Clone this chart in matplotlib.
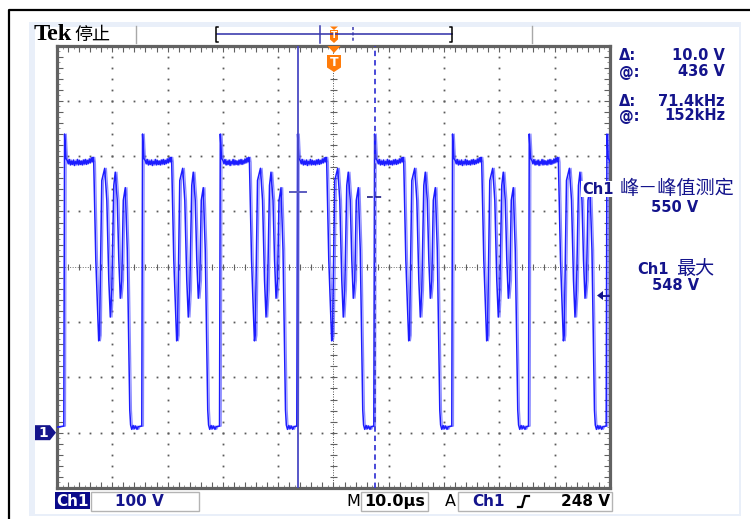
import matplotlib
matplotlib.use('Agg')
import matplotlib.pyplot as plt
import numpy as np
from matplotlib.patches import Rectangle, Polygon

# ---------------- data ----------------
time_per_div_us = 10
volts_per_div = 100
n_div_x = 10
n_div_y = 8
ground_div_from_bottom = 1

rise_times_us = [1.32, 15.42, 29.48, 43.45, 57.38, 71.48, 85.35, 99.40]
start_level_v = 10

# one switching cycle, offsets from the rising edge (us) and volts
cycle_dt_us = [-0.09, 0.05, 0.27, 0.54, 0.72, 0.90, 1.10, 1.28, 1.45, 1.65, 1.82,
               1.99, 2.18, 2.36, 2.53, 2.72, 2.90, 3.07, 3.26, 3.44, 3.62, 3.80,
               3.98, 4.16, 4.34, 4.52, 4.70, 4.88, 5.06, 5.20, 5.32,
               5.70, 6.22, 6.37, 6.78, 7.31, 7.69, 8.05, 8.32,
               8.59, 8.95, 9.22, 9.58, 9.86, 10.13, 10.40, 10.67, 11.03, 11.39,
               11.84, 11.99, 12.20, 12.45, 12.66, 12.90, 13.15, 13.38]
cycle_v = [12, 540, 496, 492, 486, 494, 484, 491, 485, 493, 483,
           490, 486, 494, 484, 492, 485, 491, 484, 493, 486, 494,
           485, 492, 487, 495, 488, 497, 490, 498, 489,
           312, 166, 176, 456, 478, 420, 275, 209,
           258, 447, 471, 420, 312, 243, 275, 420, 443, 330,
           41, 14, 6, 13, 7, 12, 6, 11]

cursor_t_us = [43.5, 57.5]
cursor_v = [436, 426]
trigger_level_v = 248

readout_labels = ["Δ:", "@:", "Δ:", "@:"]
readout_values = ["10.0 V", "436 V", "71.4kHz", "152kHz"]
meas_titles = ["峰－峰值测定", "最大"]
meas_values = ["550 V", "548 V"]
ch_scale = "100 V"
time_scale = "10.0µs"
trig_level_text = "248 V"

# ---------------- figure ----------------
W, H = 750, 519
fig = plt.figure(figsize=(W / 100, H / 100), dpi=100)
fig.patch.set_facecolor('white')

bg = fig.add_axes([0, 0, 1, 1], zorder=0)
bg.set_xlim(0, W); bg.set_ylim(H, 0); bg.axis('off')
fg = fig.add_axes([0, 0, 1, 1], zorder=3)
fg.set_xlim(0, W); fg.set_ylim(H, 0); fg.axis('off')
fg.patch.set_alpha(0)

# outer frame and light panel
bg.add_patch(Rectangle((29, 22), 712, 494, facecolor='#e9eff9', edgecolor='none'))
bg.add_patch(Rectangle((35, 27), 704, 487, facecolor='white', edgecolor='none'))
bg.plot([9, 9, 750], [519, 10, 10], color='black', lw=1.6, solid_capstyle='butt')

# header
fg.text(34, 35, "Tek", fontsize=17.5, fontweight='bold', family='Liberation Serif',
        ha='left', va='center', color='black')
fg.text(74, 34.5, "停止", fontsize=13, family='Noto Sans CJK SC', ha='left',
        va='center', color='black')
fg.plot([136, 136], [26, 43], color='#a8a8a8', lw=1.0)
fg.plot([532, 532], [26, 43], color='#a8a8a8', lw=1.0)
# record bar
fg.plot([217, 452], [34.3, 34.3], color='#2e2ea8', lw=1.1)
fg.plot([218, 216, 216, 218], [27, 27, 42, 42], color='black', lw=1.1)
fg.plot([450, 452, 452, 450], [27, 27, 42, 42], color='black', lw=1.1)
fg.plot([320, 320], [26, 43], color='#3a3ab0', lw=1.1)
fg.plot([353, 353], [27, 42], color='#3a3ab0', lw=1.1, ls=(0, (2, 1.5)))
orange = '#ff7c0a'
fg.add_patch(Polygon([(330, 26.5), (338, 26.5), (334, 30)], closed=True,
                     facecolor=orange, edgecolor='none'))
fg.add_patch(Polygon([(330, 30), (338, 30), (338, 39.5), (334, 43), (330, 39.5)],
                     closed=True, facecolor=orange, edgecolor='none'))
fg.text(334, 35.5, "T", fontsize=6.5, fontweight='bold', color='white',
        ha='center', va='center')
# trigger position marker inside graticule
fg.add_patch(Polygon([(327.5, 46), (340.5, 46), (334, 53)], closed=True,
                     facecolor=orange, edgecolor='none', zorder=6))
fg.add_patch(Polygon([(327, 55), (341, 55), (341, 67.5), (334, 72), (327, 67.5)],
                     closed=True, facecolor=orange, edgecolor='none', zorder=6))
fg.text(334, 62.5, "T", fontsize=9, fontweight='bold', color='white',
        ha='center', va='center', zorder=7)

# ---------------- graticule / data axes ----------------
gx0, gx1, gy0, gy1 = 57, 610, 45.5, 488
ax = fig.add_axes([gx0 / W, (H - gy1) / H, (gx1 - gx0) / W, (gy1 - gy0) / H], zorder=2)
x_max = time_per_div_us * n_div_x
y_min = -ground_div_from_bottom * volts_per_div
y_max = y_min + n_div_y * volts_per_div
ax.set_xlim(0, x_max)
ax.set_ylim(y_min, y_max)
ax.set_facecolor('white')
for s in ax.spines.values():
    s.set_color('#626262'); s.set_linewidth(2.3)
ax.set_xticks(np.arange(0, x_max + 0.01, time_per_div_us / 5))
ax.set_xticks(np.arange(0, x_max + 0.01, time_per_div_us / 10), minor=True)
ax.set_yticks(np.arange(y_min, y_max + 0.1, volts_per_div / 5))
ax.set_yticks(np.arange(y_min, y_max + 0.1, volts_per_div / 10), minor=True)
ax.tick_params(which='major', direction='in', length=4, width=0.8, color='#606060',
               top=True, right=True, labelbottom=False, labelleft=False)
ax.tick_params(which='minor', direction='in', length=2, width=0.6, color='#808080',
               top=True, right=True)

xs_minor = np.arange(0, x_max + 0.01, time_per_div_us / 5)
ys_minor = np.arange(y_min, y_max + 0.1, volts_per_div / 5)
x_center = x_max / 2
y_center = (y_min + y_max) / 2
dot_x, dot_y = [], []
for i in range(1, n_div_x):
    xv = i * time_per_div_us
    if abs(xv - x_center) < 1e-6:
        continue
    dot_x += [xv] * len(ys_minor); dot_y += list(ys_minor)
for j in range(1, n_div_y):
    yv = y_min + j * volts_per_div
    if abs(yv - y_center) < 1e-6:
        continue
    dot_x += list(xs_minor); dot_y += [yv] * len(xs_minor)
ax.plot(dot_x, dot_y, 's', ms=1.3, mew=0, color='#5a5a5a', zorder=1)
ax.axhline(y_center, color='#707070', lw=0.7, ls=(0, (1, 1.6)), zorder=1)
ax.axvline(x_center, color='#505050', lw=0.7, ls=(0, (1, 1.6)), zorder=1)
ax.vlines(xs_minor, y_center - 5, y_center + 5, color='#606060', lw=0.8, zorder=1)
ax.hlines(ys_minor, x_center - 0.55, x_center + 0.55, color='#606060', lw=0.8, zorder=1)

# waveform
t = [0.0]
v = [start_level_v]
for r in rise_times_us:
    for dt, vv in zip(cycle_dt_us, cycle_v):
        t.append(r + dt); v.append(vv)
t = np.array(t); v = np.array(v)
ax.plot(t + 0.3, v, color='#5a5aff', lw=0.9, alpha=0.7, zorder=4)
ax.plot(t, v, color='#1c1cff', lw=1.1, zorder=5)

# cursors
ax.axvline(cursor_t_us[0], color='#4a4ac4', lw=1.3, zorder=6)
ax.axvline(cursor_t_us[1], color='#3a3ad4', lw=1.3, ls=(0, (3, 2.2)), zorder=6)
ax.plot([cursor_t_us[0] - 1.45, cursor_t_us[0] + 1.45], [cursor_v[0]] * 2,
        color='#5c5cc0', lw=1.4, zorder=6)
ax.plot([cursor_t_us[1] - 1.45, cursor_t_us[1] + 1.45], [cursor_v[1]] * 2,
        color='#1a1a80', lw=1.2, ls=(0, (3.5, 1.5)), zorder=6)

# ground marker and trigger level arrow (pixel coords)
navy = '#14148c'
gy = gy1 - (0 - y_min) / (y_max - y_min) * (gy1 - gy0)
fg.add_patch(Polygon([(35, gy - 7.5), (50, gy - 7.5), (56, gy), (50, gy + 7.5), (35, gy + 7.5)],
                     closed=True, facecolor=navy, edgecolor='none'))
fg.text(43, gy + 0.5, "1", fontsize=10, fontweight='bold', color='white',
        ha='center', va='center')
ty = gy1 - (trigger_level_v - y_min) / (y_max - y_min) * (gy1 - gy0)
fg.add_patch(Polygon([(597, ty), (603, ty - 4.5), (603, ty + 4.5)], closed=True,
                     facecolor=navy, edgecolor='none'))
fg.plot([601, 609], [ty, ty], color=navy, lw=1.3)

# right readouts
ro_y = [55, 72, 101, 116]
for lab, val, yy in zip(readout_labels, readout_values, ro_y):
    fg.text(619, yy, lab, fontsize=10.5, fontweight='bold', color=navy,
            ha='left', va='center')
    fg.text(725, yy, val, fontsize=10.5, fontweight='bold', color=navy,
            ha='right', va='center')

fg.text(582, 189, "Ch1", fontsize=10.5, fontweight='bold', color=navy, ha='left',
        va='center', bbox=dict(facecolor='white', edgecolor='none', pad=0.5))
fg.text(620, 188, meas_titles[0], fontsize=13.8, family='Noto Sans CJK SC',
        fontweight='medium', color=navy, ha='left', va='center')
fg.text(675, 207, meas_values[0], fontsize=10.5, fontweight='bold', color=navy,
        ha='center', va='center')
fg.text(637, 269, "Ch1", fontsize=10.5, fontweight='bold', color=navy, ha='left',
        va='center')
fg.text(676, 268, meas_titles[1], fontsize=13.8, family='Noto Sans CJK SC',
        fontweight='medium', color=navy, ha='left', va='center')
fg.text(676, 286, meas_values[1], fontsize=10.5, fontweight='bold', color=navy,
        ha='center', va='center')

# bottom status bar
fg.add_patch(Rectangle((55, 492), 35, 17, facecolor='#0a0a8a', edgecolor='none'))
fg.text(72.5, 501, "Ch1", fontsize=11, fontweight='bold', color='white',
        ha='center', va='center')
fg.add_patch(Rectangle((91, 492), 108, 19, facecolor='white', edgecolor='#b4b4b4', lw=1))
fg.text(115, 501.5, ch_scale, fontsize=11, fontweight='bold', color=navy,
        ha='left', va='center')
fg.text(346, 501.5, "M", fontsize=11.5, color='black', ha='left', va='center')
fg.add_patch(Rectangle((361, 492), 67, 19, facecolor='white', edgecolor='#b4b4b4', lw=1))
fg.text(364, 501.5, time_scale, fontsize=11.5, fontweight='bold', color='black',
        ha='left', va='center')
fg.text(445, 501.5, "A", fontsize=11.5, color='black', ha='left', va='center')
fg.add_patch(Rectangle((458, 492), 154, 19, facecolor='white', edgecolor='#b4b4b4', lw=1))
fg.text(472, 501.5, "Ch1", fontsize=11, fontweight='bold', color=navy,
        ha='left', va='center')
fg.plot([518, 522, 525, 529], [507, 507, 496, 496], color='black', lw=1.6)
fg.text(610, 501.5, trig_level_text, fontsize=11, fontweight='bold', color='black',
        ha='right', va='center')

fig.savefig('out.png', dpi=100)
